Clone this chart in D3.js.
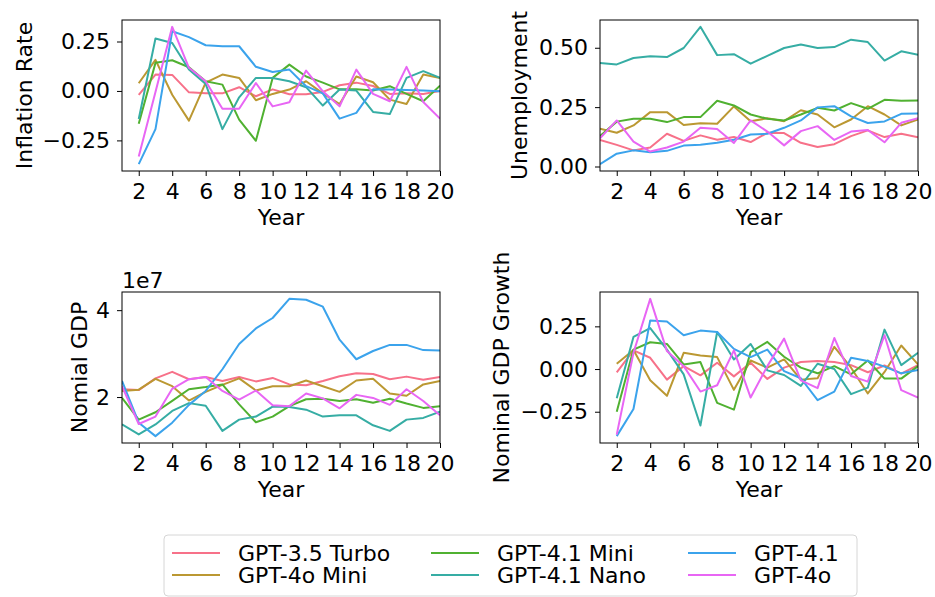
<!DOCTYPE html>
<html>
<head>
<meta charset="utf-8">
<script src="https://cdn.jsdelivr.net/npm/d3@7"></script>
<style>
    body { margin: 0; background: #fff; }
    svg text { font-family: "DejaVu Sans", sans-serif; fill: #000; }
</style>
</head>
<body>
<svg id="chart" width="935" height="597"></svg>
<script>
// ---- data ----
const models = ["GPT-3.5 Turbo", "GPT-4o Mini", "GPT-4.1 Mini", "GPT-4.1 Nano", "GPT-4.1", "GPT-4o"];
const xTicks = [2, 4, 6, 8, 10, 12, 14, 16, 18, 20];

// years 2..20, one row per model (same order as models)
const inflationRate = [
    [-0.02, 0.083, 0.081, -0.007, -0.012, -0.012, 0.019, -0.027, 0.008, -0.017, -0.017, -0.005, 0.029, 0.042, 0.025, -0.015, -0.012, -0.015, 0.0],
    [0.039, 0.157, -0.019, -0.15, 0.042, 0.083, 0.066, -0.047, -0.015, 0.007, 0.049, -0.012, -0.066, 0.073, 0.044, -0.044, -0.066, 0.083, 0.066],
    [-0.166, 0.142, 0.155, 0.12, 0.049, 0.032, -0.145, -0.252, 0.066, 0.133, 0.073, 0.042, 0.008, 0.008, 0.002, 0.024, -0.015, -0.052, 0.027],
    [-0.142, 0.265, 0.242, 0.108, 0.035, -0.193, -0.032, 0.066, 0.066, 0.049, 0.019, -0.074, 0.007, 0.002, -0.106, -0.117, 0.066, 0.1, 0.066],
    [-0.37, -0.193, 0.302, 0.272, 0.231, 0.226, 0.226, 0.122, 0.096, 0.108, 0.024, -0.012, -0.14, -0.111, 0.008, 0.007, 0.005, 0.002, -0.002],
    [-0.331, -0.005, 0.324, 0.117, 0.049, -0.09, -0.09, 0.04, -0.078, -0.057, 0.103, -0.002, -0.078, 0.108, -0.015, -0.052, 0.122, -0.056, -0.14]
];

// years 1..20
const unemployment = [
    [0.112, 0.091, 0.068, 0.08, 0.138, 0.108, 0.131, 0.113, 0.124, 0.103, 0.142, 0.141, 0.1, 0.082, 0.094, 0.128, 0.152, 0.124, 0.138, 0.123],
    [0.159, 0.142, 0.173, 0.229, 0.229, 0.175, 0.182, 0.18, 0.253, 0.191, 0.203, 0.191, 0.237, 0.219, 0.165, 0.198, 0.254, 0.219, 0.173, 0.198],
    [0.128, 0.189, 0.201, 0.201, 0.187, 0.208, 0.208, 0.277, 0.257, 0.219, 0.201, 0.194, 0.219, 0.247, 0.236, 0.267, 0.243, 0.281, 0.277, 0.278],
    [0.436, 0.43, 0.457, 0.464, 0.461, 0.499, 0.588, 0.469, 0.473, 0.433, 0.466, 0.499, 0.514, 0.499, 0.503, 0.534, 0.524, 0.446, 0.485, 0.471],
    [0.01, 0.054, 0.068, 0.06, 0.066, 0.088, 0.092, 0.1, 0.113, 0.135, 0.138, 0.163, 0.194, 0.249, 0.254, 0.211, 0.183, 0.19, 0.222, 0.223],
    [0.119, 0.194, 0.105, 0.063, 0.08, 0.105, 0.163, 0.158, 0.099, 0.194, 0.147, 0.089, 0.149, 0.17, 0.112, 0.147, 0.154, 0.102, 0.184, 0.203]
];

// years 1..20, in units of 1e7
const nominalGdp = [
    [2.18, 2.16, 2.43, 2.58, 2.41, 2.46, 2.37, 2.46, 2.36, 2.44, 2.29, 2.27, 2.37, 2.48, 2.55, 2.53, 2.41, 2.47, 2.4, 2.46],
    [2.14, 2.17, 2.42, 2.25, 1.92, 2.12, 2.28, 2.43, 2.15, 2.25, 2.25, 2.38, 2.25, 2.12, 2.38, 2.42, 2.08, 2.03, 2.29, 2.37],
    [1.98, 1.48, 1.65, 1.91, 2.18, 2.23, 2.29, 1.83, 1.42, 1.55, 1.79, 1.95, 1.96, 1.91, 1.95, 1.87, 1.96, 1.85, 1.75, 1.79],
    [1.37, 1.14, 1.37, 1.68, 1.86, 1.8, 1.22, 1.48, 1.55, 1.78, 1.77, 1.71, 1.55, 1.58, 1.58, 1.35, 1.22, 1.48, 1.52, 1.66],
    [2.37, 1.41, 1.1, 1.41, 1.82, 2.14, 2.64, 3.22, 3.58, 3.82, 4.26, 4.24, 4.08, 3.32, 2.87, 3.06, 3.2, 3.2, 3.08, 3.07],
    [2.25, 1.38, 1.55, 2.19, 2.41, 2.46, 2.14, 1.94, 2.15, 1.81, 1.79, 2.08, 1.97, 1.74, 2.05, 1.98, 1.82, 2.18, 1.91, 1.58]
];

// years 2..20
const gdpGrowth = [
    [-0.019, 0.109, 0.066, -0.062, 0.017, -0.037, 0.037, -0.043, 0.037, -0.058, 0.008, 0.041, 0.047, 0.041, 0.023, -0.019, 0.021, -0.027, 0.023],
    [0.031, 0.112, -0.066, -0.157, 0.095, 0.079, 0.07, -0.122, 0.05, 0.008, 0.056, -0.062, -0.054, 0.13, 0.008, -0.143, -0.017, 0.138, 0.027],
    [-0.25, 0.114, 0.157, 0.147, 0.027, 0.041, -0.198, -0.238, 0.099, 0.159, 0.072, 0.008, -0.025, 0.017, -0.031, 0.05, -0.056, -0.056, 0.017],
    [-0.171, 0.188, 0.24, 0.114, -0.031, -0.331, 0.217, 0.056, 0.147, -0.008, -0.035, -0.099, 0.031, 0, -0.147, -0.109, 0.231, 0.023, 0.095],
    [-0.393, -0.234, 0.285, 0.279, 0.198, 0.225, 0.217, 0.118, 0.07, 0.114, -0.012, -0.054, -0.182, -0.132, 0.066, 0.047, 0.014, -0.025, -0.006],
    [-0.384, 0.095, 0.411, 0.105, 0.017, -0.132, -0.095, 0.109, -0.167, 0.017, 0.178, -0.066, -0.112, 0.182, -0.041, -0.074, 0.198, -0.124, -0.167]
];

// seaborn husl palette
const colors = ["#f77189", "#bb9832", "#50b131", "#36ada4", "#3ba3ec", "#e866f4"];

const svg = d3.select("#chart");
const FS = 22;

// panel layout
const panels = [
    {data: inflationRate, start: 2, yTicks: [-0.25, 0, 0.25], fmt: d3.format(".2f"), label: "Inflation Rate",
        x0: 122, y0: 20, labelX: 32},
    {data: unemployment, start: 1, yTicks: [0, 0.25, 0.5], fmt: d3.format(".2f"), label: "Unemployment",
        x0: 600, y0: 20, labelX: 527},
    {data: nominalGdp, start: 1, yTicks: [2, 4], fmt: d3.format("d"), label: "Nomial GDP",
        x0: 122, y0: 292, labelX: 87, offset: "1e7"},
    {data: gdpGrowth, start: 2, yTicks: [-0.25, 0, 0.25], fmt: d3.format(".2f"), label: "Nominal GDP Growth",
        x0: 600, y0: 292, labelX: 509}
];
const pw = 318, ph = 151;

panels.forEach(function(p) {
    let g = svg.append("g").attr("transform", "translate(" + p.x0 + "," + p.y0 + ")");

    let x = d3.scaleLinear().domain([1, 20]).range([0, pw]);
    let all = p.data.flat();
    let lo = d3.min(all), hi = d3.max(all), pad = (hi - lo) * 0.05;
    let y = d3.scaleLinear().domain([lo - pad, hi + pad]).range([ph, 0]);

    g.append("defs").append("clipPath").attr("id", "clip" + p.x0 + p.y0)
        .append("rect").attr("width", pw).attr("height", ph);

    let line = d3.line()
        .x((d, i) => x(p.start + i))
        .y(d => y(d));

    g.append("g").attr("clip-path", "url(#clip" + p.x0 + p.y0 + ")")
        .selectAll("path.series")
        .data(p.data)
        .enter().append("path")
        .attr("class", "series")
        .attr("d", line)
        .attr("fill", "none")
        .attr("stroke", (d, i) => colors[i])
        .attr("stroke-width", 2)
        .attr("stroke-linejoin", "round");

    // axes
    let xAxis = g.append("g").attr("transform", "translate(0," + ph + ")")
        .call(d3.axisBottom(x).tickValues(xTicks).tickSize(5).tickPadding(7));
    let yAxis = g.append("g")
        .call(d3.axisLeft(y).tickValues(p.yTicks).tickFormat(p.fmt).tickSize(5).tickPadding(7));
    [xAxis, yAxis].forEach(function(a) {
        a.select(".domain").remove();
        a.selectAll("text").style("font-size", FS + "px").style("font-family", "DejaVu Sans");
        a.selectAll("line").attr("stroke", "#000").attr("stroke-width", 1);
    });

    // frame
    g.append("rect").attr("width", pw).attr("height", ph)
        .attr("fill", "none").attr("stroke", "#000").attr("stroke-width", 1);

    g.append("text")
        .attr("x", pw / 2).attr("y", ph + 54)
        .attr("text-anchor", "middle")
        .style("font-size", FS + "px")
        .text("Year");

    svg.append("text")
        .attr("transform", "translate(" + p.labelX + "," + (p.y0 + ph / 2) + ") rotate(-90)")
        .attr("text-anchor", "middle")
        .style("font-size", FS + "px")
        .text(p.label);

    if (p.offset) {
        g.append("text").attr("x", 0).attr("y", -4)
            .style("font-size", FS + "px")
            .text(p.offset);
    }
});

// ---- legend ----
let legend = svg.append("g");
legend.append("rect")
    .attr("x", 164).attr("y", 535).attr("width", 693).attr("height", 61)
    .attr("rx", 4)
    .attr("fill", "#fff").attr("stroke", "#d6d6d6").attr("stroke-width", 1);

const colX = [172, 431, 688];
const rowY = [553, 575];
let items = legend.selectAll("g.item")
    .data(models)
    .enter().append("g")
    .attr("class", "item")
    .attr("transform", (d, i) => "translate(" + colX[Math.floor(i / 2)] + "," + rowY[i % 2] + ")");
items.append("line")
    .attr("x1", 0).attr("x2", 48)
    .attr("stroke", (d, i) => colors[i])
    .attr("stroke-width", 2);
items.append("text")
    .attr("x", 66).attr("dy", "0.35em")
    .style("font-size", FS + "px")
    .text(d => d);
</script>
</body>
</html>
